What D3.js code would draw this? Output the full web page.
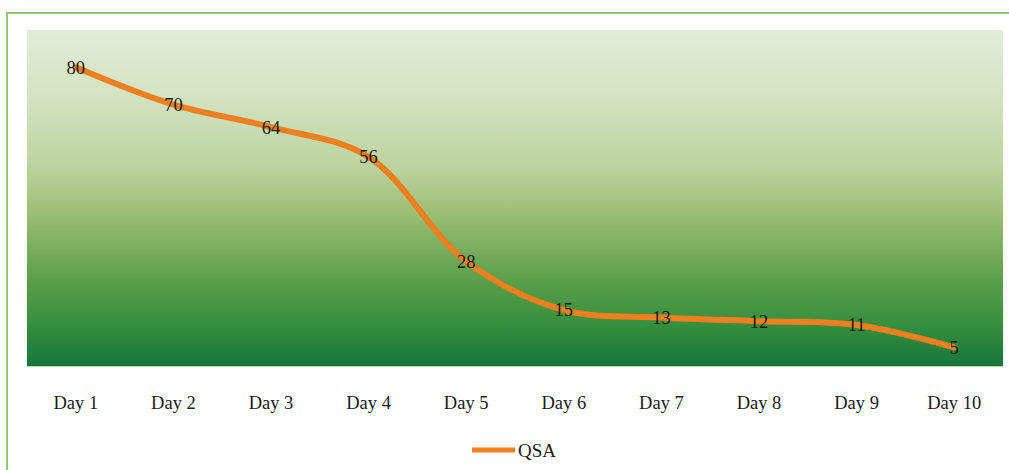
<!DOCTYPE html>
<html>
<head>
<meta charset="utf-8">
<script src="https://cdn.jsdelivr.net/npm/d3@7"></script>
<style>
  html, body { margin: 0; padding: 0; background: #ffffff; overflow: hidden; }
  svg { display: block; }
  text { font-family: "Liberation Serif", "Times New Roman", serif; fill: #1a1a1a; }
</style>
</head>
<body>
<script>
// Daily QSA readings
const days = ["Day 1", "Day 2", "Day 3", "Day 4", "Day 5", "Day 6", "Day 7", "Day 8", "Day 9", "Day 10"];
const qsa = [80, 70, 64, 56, 28, 15, 13, 12, 11, 5];
const seriesName = "QSA";
const yDomain = [0, 90];

const width = 1009, height = 470;
const plot = { left: 27, top: 30, right: 1003, bottom: 366 };

const svg = d3.select("body").append("svg")
  .attr("width", width)
  .attr("height", height);

// Background gradient of the plot area
const defs = svg.append("defs");
const grad = defs.append("linearGradient")
  .attr("id", "plotFill")
  .attr("x1", 0).attr("y1", 0).attr("x2", 0).attr("y2", 1);
[
  [0.00, "#e2ecd7"],
  [0.20, "#d3e3c1"],
  [0.40, "#bdd49f"],
  [0.52, "#a3c27d"],
  [0.62, "#84b264"],
  [0.75, "#5a9e4a"],
  [0.87, "#38903f"],
  [1.00, "#16763b"]
].forEach(([o, c]) => grad.append("stop").attr("offset", o).attr("stop-color", c));

// Outer frame (top and left edges fall inside the page)
const frame = svg.append("g")
  .attr("stroke", "#8fca74")
  .attr("stroke-width", 2);
frame.append("line").attr("x1", 7).attr("x2", width).attr("y1", 13).attr("y2", 13);
frame.append("line").attr("x1", 7).attr("x2", 7).attr("y1", 12).attr("y2", height);

const x = d3.scaleBand()
  .domain(days)
  .range([plot.left, plot.right])
  .padding(0);

const y = d3.scaleLinear()
  .domain(yDomain)
  .range([plot.bottom, plot.top]);

// Plot area
svg.append("rect")
  .attr("x", plot.left).attr("y", plot.top)
  .attr("width", plot.right - plot.left)
  .attr("height", plot.bottom - plot.top)
  .attr("fill", "url(#plotFill)");

svg.append("line")
  .attr("x1", plot.left).attr("x2", plot.right)
  .attr("y1", plot.bottom + 0.5).attr("y2", plot.bottom + 0.5)
  .attr("stroke", "#b9dca6").attr("stroke-width", 1);

// Category axis
const xAxis = svg.append("g")
  .attr("transform", `translate(0,${plot.bottom})`)
  .call(d3.axisBottom(x).tickSize(0).tickPadding(30));
xAxis.select(".domain").remove();
xAxis.selectAll("text")
  .attr("font-size", 18.5)
  .attr("fill", "#1a1a1a")
  .style("font-family", "'Liberation Serif', 'Times New Roman', serif");

const cx = d => x(d) + x.bandwidth() / 2;

// Series line
const line = d3.line()
  .x((d, i) => cx(days[i]))
  .y(d => y(d))
  .curve(d3.curveCatmullRom.alpha(0.5));

svg.append("path")
  .datum(qsa)
  .attr("d", line)
  .attr("fill", "none")
  .attr("stroke", "#f07f1f")
  .attr("stroke-width", 6)
  .attr("stroke-linejoin", "round")
  .attr("stroke-linecap", "round");

// Value labels centred on each point
svg.append("g")
  .selectAll("text")
  .data(qsa)
  .join("text")
  .attr("x", (d, i) => cx(days[i]))
  .attr("y", d => y(d))
  .attr("dy", "0.35em")
  .attr("text-anchor", "middle")
  .attr("font-size", 18.5)
  .text(d => d);

// Legend
const legend = svg.append("g").attr("transform", "translate(472,450)");
legend.append("line")
  .attr("x1", 0).attr("x2", 43)
  .attr("y1", 0).attr("y2", 0)
  .attr("stroke", "#f07f1f")
  .attr("stroke-width", 5);
legend.append("text")
  .attr("x", 46).attr("y", 0)
  .attr("dy", "0.35em")
  .attr("font-size", 19)
  .text(seriesName);
</script>
</body>
</html>
